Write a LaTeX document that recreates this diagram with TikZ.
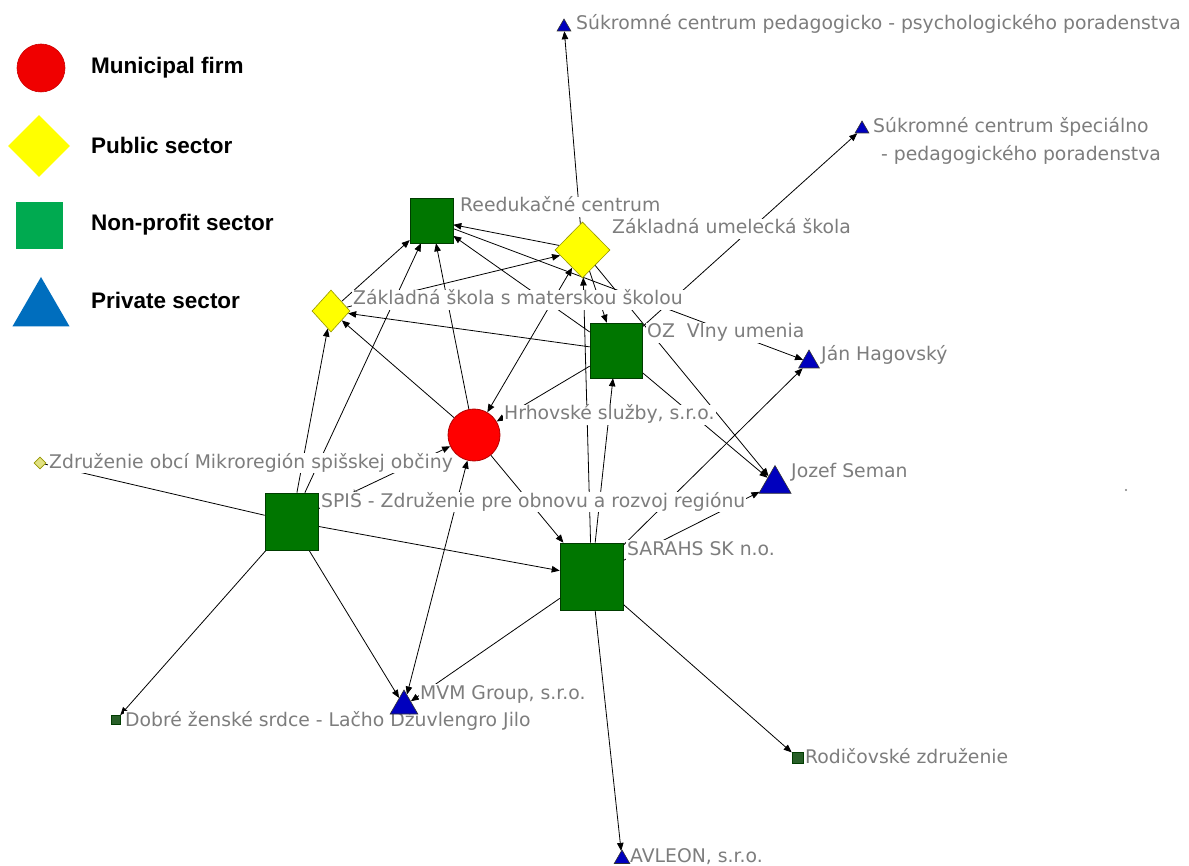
\documentclass[tikz,border=0pt]{standalone}
\usepackage{fontspec}
\setmainfont{DejaVu Sans}
\newfontfamily\legfont{Liberation Sans}
\usetikzlibrary{shapes.geometric,arrows.meta}
\definecolor{npg}{RGB}{0,118,0}
\definecolor{npgd}{RGB}{0,60,0}
\definecolor{pubY}{RGB}{255,255,0}
\definecolor{pubYd}{RGB}{150,150,0}
\definecolor{prB}{RGB}{0,0,190}
\definecolor{lblgray}{RGB}{125,125,125}
\definecolor{legR}{RGB}{240,0,0}
\definecolor{legG}{RGB}{0,170,80}
\definecolor{legB}{RGB}{0,110,190}
\definecolor{smallG}{RGB}{40,95,40}
\definecolor{zoY}{RGB}{225,225,130}
\pgfdeclarelayer{bglayer}
\pgfdeclarelayer{edgelayer}
\pgfdeclarelayer{labellayer}
\pgfsetlayers{bglayer,edgelayer,labellayer,main}
\begin{document}
\begin{tikzpicture}[x=1pt,y=-1pt,
  lbl/.style={anchor=west,text=lblgray,fill=white,inner sep=1pt,text height=14pt,text depth=4pt,font=\fontsize{18.8}{20}\selectfont},
  legt/.style={anchor=west,inner sep=0pt,font=\legfont\bfseries\fontsize{22.5}{24}\selectfont},
  npsq/.style={rectangle,fill=npg,draw=npgd,line width=0.6pt,inner sep=0pt},
  pubdia/.style={diamond,fill=pubY,draw=pubYd,line width=0.6pt,inner sep=0pt},
  munc/.style={circle,fill=red,draw=red!70!black,line width=0.8pt,inner sep=0pt},
  privtri/.style={regular polygon,regular polygon sides=3,fill=prB,draw=black!80,line width=0.6pt,inner sep=0pt},
  lnk/.style={draw=black,line width=0.8pt,-{Triangle[length=8pt,width=6.5pt]}},
  lnkb/.style={draw=black,line width=0.8pt,{Triangle[length=8pt,width=6.5pt]}-{Triangle[length=8pt,width=6.5pt]}}
]
\useasboundingbox (0,0) rectangle (1189,866);
\begin{pgfonlayer}{bglayer}
\fill[white] (0,0) rectangle (1189,866);
\end{pgfonlayer}

% legend
\node[circle,fill=legR,draw=red!80!black,line width=0.6pt,minimum size=48pt,inner sep=0pt] (lg1) at (41,68) {};
\node[diamond,fill=pubY,minimum width=62pt,minimum height=62pt,inner sep=0pt] (lg2) at (39,146) {};
\node[rectangle,fill=legG,minimum size=47pt,inner sep=0pt] (lg3) at (39.5,225.5) {};
\node[regular polygon,regular polygon sides=3,fill=legB,minimum size=66pt,inner sep=0pt] (lg4) at (41,310) {};
\node[legt] (lt1) at (91,68) {Municipal firm};
\node[legt] (lt2) at (91,145) {Public sector};
\node[legt] (lt3) at (91,225) {Non-profit sector};
\node[legt] (lt4) at (91,300) {Private sector};

% network nodes
\node[npsq,minimum width=43pt,minimum height=45pt] (R) at (431.5,220.5) {};
\node[pubdia,minimum width=55pt,minimum height=56pt] (ZUS) at (582.5,250) {};
\node[pubdia,minimum width=38pt,minimum height=42pt] (ZS) at (331,311) {};
\node[npsq,minimum width=52pt,minimum height=55pt] (OZ) at (616,350.5) {};
\node[munc,minimum size=52pt] (H) at (474,435) {};
\node[npsq,minimum width=53pt,minimum height=57pt] (SP) at (291.5,521.5) {};
\node[npsq,minimum width=63pt,minimum height=67pt] (SA) at (591.5,576.5) {};
\node[pubdia,fill=zoY,minimum width=12pt,minimum height=12pt] (ZO) at (40,463) {};
\node[privtri,minimum size=24pt] (JH) at (809,362) {};
\node[privtri,minimum size=37pt] (JS) at (775,484) {};
\node[privtri,minimum size=32pt] (MVM) at (404,706) {};
\node[npsq,fill=smallG,minimum size=9pt] (D) at (116,720) {};
\node[npsq,fill=smallG,minimum size=11pt] (RZ) at (797.5,757.5) {};
\node[privtri,minimum size=18pt] (AV) at (622,859) {};
\node[privtri,minimum size=16pt] (SC1) at (564,27) {};
\node[privtri,minimum size=16pt] (SC2) at (862,129) {};
\fill[gray] (1126,490) circle (1.2);

% labels
\begin{pgfonlayer}{labellayer}
\node[lbl] (lSC1) at (575,25) {Súkromné centrum pedagogicko - psychologického poradenstva};
\node[lbl] (lSC2a) at (872,128) {Súkromné centrum špeciálno};
\node[lbl] (lSC2b) at (880,156) {- pedagogického poradenstva};
\node[lbl] (lR) at (459,207) {Reedukačné centrum};
\node[lbl] (lZUS) at (611,229) {Základná umelecká škola};
\node[lbl] (lZS) at (352,300) {Základná škola s materskou školou};
\node[lbl] (lOZ) at (646,333) {OZ\ \ Vlny umenia};
\node[lbl] (lJH) at (820,356) {Ján Hagovský};
\node[lbl] (lH) at (503,415) {Hrhovské služby, s.r.o.};
\node[lbl] (lZO) at (48,463) {Združenie obcí Mikroregión spišskej občiny};
\node[lbl] (lSP) at (320,502) {SPIŠ - Združenie pre obnovu a rozvoj regiónu};
\node[lbl] (lJS) at (790,472) {Jozef Seman};
\node[lbl] (lSA) at (626,550) {SARAHS SK n.o.};
\node[lbl] (lMVM) at (419,694) {MVM Group, s.r.o.};
\node[lbl] (lD) at (124,721) {Dobré ženské srdce - Lačho Džuvlengro Jilo};
\node[lbl] (lRZ) at (804,758) {Rodičovské združenie};
\node[lbl] (lAV) at (629,857) {AVLEON, s.r.o.};
\end{pgfonlayer}

% edges
\begin{pgfonlayer}{edgelayer}
\draw[lnk] (ZUS) -- (SC1);
\draw[lnk] (OZ) -- (SC2);
\draw[lnk] (ZUS) -- (R);
\draw[lnk] (ZS) -- (ZUS);
\draw[lnk] (ZS) -- (R);
\draw[lnk] (SP) -- (R);
\draw[lnk] (SP) -- (ZS);
\draw[lnk] (H) -- (R);
\draw[lnk] (OZ) -- (R);
\draw[lnk] (OZ) -- (JS);
\draw[lnk] (ZUS) -- (JS);
\draw[lnk] (OZ) -- (ZS);
\draw[lnk] (H) -- (ZS);
\draw[lnkb] (H) -- (ZUS);
\draw[lnk] (OZ) -- (H);
\draw[lnkb] (H) -- (MVM);
\draw[lnk] (SP) -- (MVM);
\draw[lnk] (SA) -- (MVM);
\draw[lnk] (SP) -- (SA);
\draw[lnk] (SP) -- (D);
\draw[line width=0.8pt] (ZO) -- (SP);
\draw[lnk] (SA) -- (AV);
\draw[lnk] (SA) -- (RZ);
\draw[lnk] (SA) -- (ZUS);
\draw[lnk] (SA) -- (OZ);
\draw[lnk] (ZUS) -- (OZ);
\draw[lnk] (SA) -- (JH);
\draw[lnk] (SA) -- (JS);
\draw[lnk] (R) -- (JH);
\draw[lnk] (SP) -- (H);
\draw[lnk] (H) -- (SA);
\end{pgfonlayer}
\end{tikzpicture}
\end{document}
